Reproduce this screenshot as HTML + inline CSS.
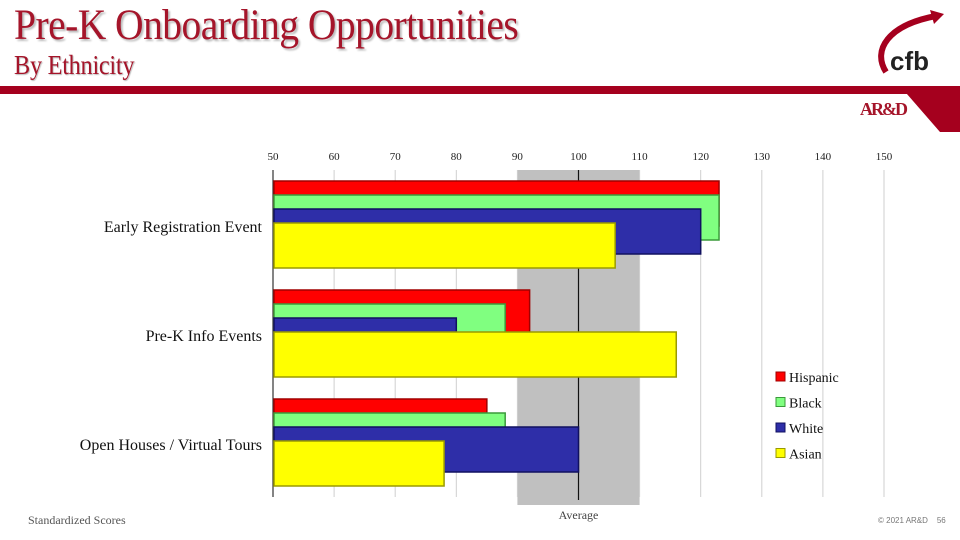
<!DOCTYPE html>
<html><head><meta charset="utf-8"><style>
body{margin:0;width:960px;height:540px;background:#fff;overflow:hidden;position:relative;font-family:"Liberation Serif",serif}
.t{position:absolute}
</style></head><body>
<div class="t" style="left:14px;top:1px;font-size:43px;color:#a5152a;letter-spacing:-0.6px;text-shadow:2px 2px 2px #bbb;transform:scaleX(0.92);transform-origin:left;white-space:nowrap">Pre-K Onboarding Opportunities</div>
<div class="t" style="left:14px;top:50px;font-size:27px;color:#a5152a;letter-spacing:-0.3px;text-shadow:1px 1px 1px #bbb;transform:scaleX(0.9);transform-origin:left;white-space:nowrap">By Ethnicity</div>
<div class="t" style="left:0;top:86px;width:960px;height:8px;background:#a5001e"></div>
<svg class="t" style="left:900px;top:86px" width="60" height="46"><polygon points="0,0 60,0 60,46 40,46" fill="#a5001e"/></svg>
<div class="t" style="left:860px;top:99px;font-size:18px;font-weight:bold;color:#a5152a;letter-spacing:-2px">AR&amp;D</div>
<svg class="t" style="left:868px;top:10px" width="80" height="66">
<path d="M18,62 C4,40 20,15 68,6" stroke="#a5001e" stroke-width="6" fill="none"/>
<polygon points="62,0 76,4 66,14" fill="#a5001e"/>
<text x="22" y="60" font-family="Liberation Sans,sans-serif" font-weight="bold" font-size="26" fill="#222">cfb</text></svg>
<div class="t" style="left:28px;top:513px;font-size:12px;color:#555">Standardized Scores</div>
<div class="t" style="left:878px;top:516px;font-size:8px;color:#777;font-family:'Liberation Sans',sans-serif">© 2021 AR&amp;D &nbsp;&nbsp; 56</div>
<svg id="c" class="t" style="left:0;top:0" width="960" height="540"></svg>
<script>
const categories=["Early Registration Event","Pre-K Info Events","Open Houses / Virtual Tours"];
const series=["Hispanic","Black","White","Asian"];
const hispanic=[123,92,85];
const black=[123,88,88];
const white=[120,80,100];
const asian=[106,116,78];
const ticks=[50,60,70,80,90,100,110,120,130,140,150];
const bandRange=[90,110];
const avgValue=100;
const cols=["#ff0000","#80ff80","#2e2ea8","#ffff00"];
const edges=["#a00000","#3a9a3a","#101060","#9a9a00"];
const vals=[hispanic,black,white,asian];
const NS="http://www.w3.org/2000/svg",svg=document.getElementById('c');
const x=v=>273+(v-50)*6.11;
const groupTop=i=>181+i*109;
function mk(t,a,p){const e=document.createElementNS(NS,t);for(const k in a)e.setAttribute(k,a[k]);(p||svg).appendChild(e);return e;}
let band=mk('rect',{x:x(bandRange[0]),y:170,width:x(bandRange[1])-x(bandRange[0]),height:335,fill:'#c0c0c0'});


ticks.forEach(t=>{
 let g=mk('line',{x1:x(t),x2:x(t),y1:170,y2:497,stroke:'#cfcfcf','stroke-width':1});
 
 
 let l=mk('text',{x:x(t),y:160,'font-size':11,'text-anchor':'middle',fill:'#222'});l.textContent=t;
 
 
});
let av=mk('line',{x1:x(avgValue),x2:x(avgValue),y1:170,y2:500,stroke:'#111','stroke-width':1.2});


let ax=mk('line',{x1:273,x2:273,y1:170,y2:497,stroke:'#333','stroke-width':1.2});


categories.forEach((c,i)=>{
 for(let s=0;s<4;s++){
  let y=groupTop(i)+s*14,v=vals[s][i];
  let r=mk('rect',{x:274,y:y,width:x(v)-274,height:45,fill:cols[s],stroke:edges[s],'stroke-width':1.5});
  
  
 }
 let t=mk('text',{x:262,y:groupTop(i)+51,'font-size':16,'text-anchor':'end',fill:'#111'});t.textContent=c;
 
 
});
let at=mk('text',{x:x(avgValue),y:519,'font-size':12,'text-anchor':'middle',fill:'#444'});at.textContent='Average';


series.forEach((s,k)=>{
 let y=372+k*25.5;
 let r=mk('rect',{x:776,y:y,width:9,height:9,fill:cols[k],stroke:edges[k]});
 
 
 let t=mk('text',{x:789,y:y+10,'font-size':14,fill:'#111'});t.textContent=s;
 
 
});
</script>
</body></html>
